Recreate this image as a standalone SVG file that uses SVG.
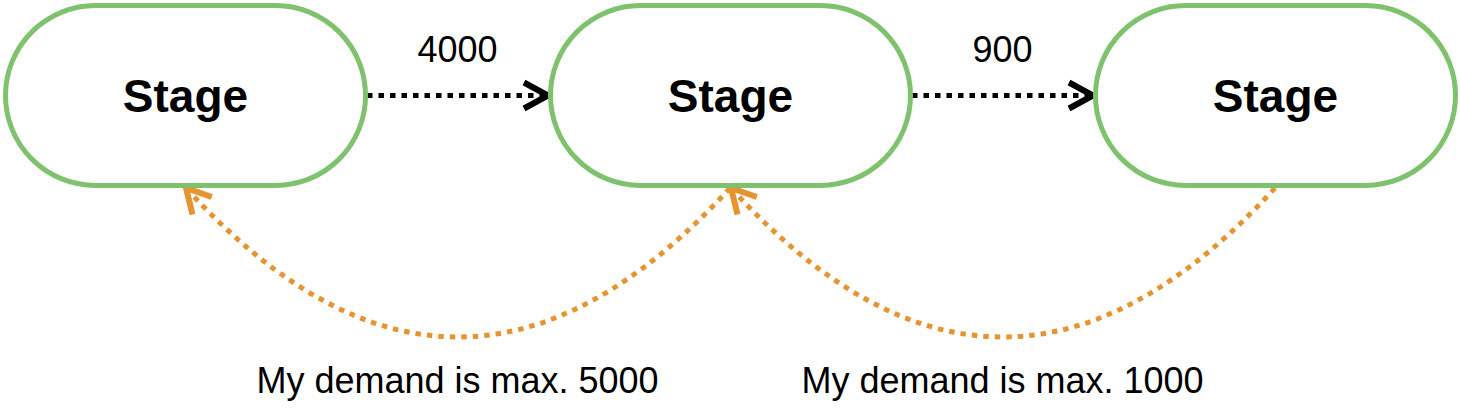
<svg xmlns="http://www.w3.org/2000/svg" width="1460" height="412" viewBox="0 0 1460 412">
  <style>
    .node { fill: #ffffff; stroke: #7fc26d; stroke-width: 5; }
    .ntext { font-family: "Liberation Sans", Arial, Helvetica, sans-serif; font-size: 46px; font-weight: bold; fill: #000000; text-anchor: middle; }
    .label { font-family: "Liberation Sans", Arial, Helvetica, sans-serif; font-size: 36px; fill: #000000; text-anchor: middle; }
    .flow { fill: none; stroke: #000000; stroke-width: 5; stroke-dasharray: 5.5 6; }
    .demand { fill: none; stroke: #e5942f; stroke-width: 5; stroke-dasharray: 5.5 6; }
  </style>
  <defs>
    <marker id="arrBlack" markerUnits="userSpaceOnUse" markerWidth="40" markerHeight="40" viewBox="-30 -20 40 40" refX="0" refY="0" orient="auto">
      <path d="M -24 -13 L 0 0 L -24 13" fill="none" stroke="#000000" stroke-width="6" stroke-linejoin="miter" stroke-dasharray="none"/>
    </marker>
    <marker id="arrOrange" markerUnits="userSpaceOnUse" markerWidth="40" markerHeight="40" viewBox="-30 -20 40 40" refX="0" refY="0" orient="auto">
      <path d="M -24 -13 L 0 0 L -24 13" fill="none" stroke="#e5942f" stroke-width="6" stroke-linejoin="miter" stroke-dasharray="none"/>
    </marker>
  </defs>

  <g id="connectors">
    <g id="edge-flow-1">
      <path class="flow" d="M 367 95.5 L 548 95.5" marker-end="url(#arrBlack)"/>
      <text class="label" x="457.5" y="62">4000</text>
    </g>
    <g id="edge-flow-2">
      <path class="flow" d="M 912 95.5 L 1093 95.5" marker-end="url(#arrBlack)"/>
      <text class="label" x="1002.5" y="62">900</text>
    </g>
    <g id="edge-demand-1">
      <path class="demand" d="M 730 188 Q 457.5 486 186 188" marker-end="url(#arrOrange)"/>
      <text class="label" x="457.5" y="393">My demand is max. 5000</text>
    </g>
    <g id="edge-demand-2">
      <path class="demand" d="M 1275 188 Q 1002.5 486 731 188" marker-end="url(#arrOrange)"/>
      <text class="label" x="1002.5" y="393">My demand is max. 1000</text>
    </g>
  </g>

  <g id="node-stage-1">
    <rect class="node" x="5.5" y="5.5" width="360" height="180" rx="90" ry="90"/>
    <text class="ntext" x="185.5" y="112">Stage</text>
  </g>
  <g id="node-stage-2">
    <rect class="node" x="550.5" y="5.5" width="360" height="180" rx="90" ry="90"/>
    <text class="ntext" x="730.5" y="112">Stage</text>
  </g>
  <g id="node-stage-3">
    <rect class="node" x="1095.5" y="5.5" width="360" height="180" rx="90" ry="90"/>
    <text class="ntext" x="1275.5" y="112">Stage</text>
  </g>
</svg>
